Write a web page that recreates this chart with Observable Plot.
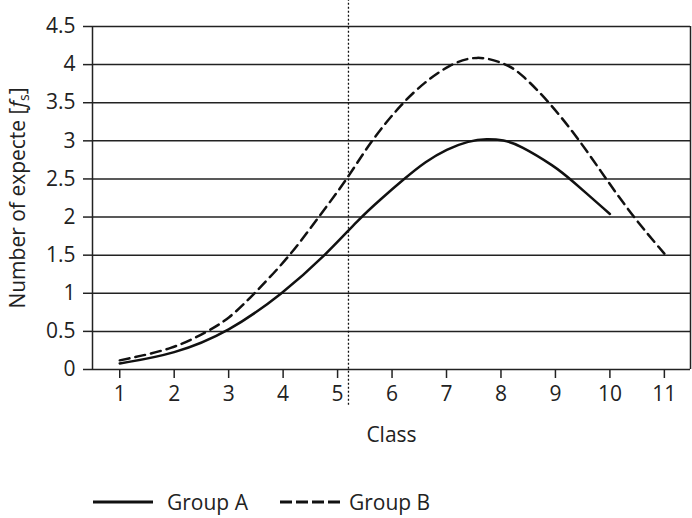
<!DOCTYPE html>
<html>
<head>
<meta charset="utf-8">
<script src="https://cdn.jsdelivr.net/npm/d3@7"></script>
<script src="https://cdn.jsdelivr.net/npm/@observablehq/plot@0.6"></script>
<style>
  body { margin: 0; background: #fff; font-family: "Open Sans", sans-serif; }
  #legend { display: flex; align-items: center; height: 32px; padding-top: 26px; padding-left: 93px; font-size: 21px; color: #222; }
  #legend .item { display: flex; align-items: center; }
</style>
</head>
<body>
<div id="chart"></div>
<div id="legend"></div>
<script>
const classesA = [1, 2, 3, 4, 4.78, 5.4, 5.77, 6.22, 6.62, 7, 7.41, 7.74, 8.05, 8.33, 9, 9.27, 10];
const valuesA  = [0.08, 0.2, 0.49, 1.0, 1.5, 1.98, 2.22, 2.5, 2.73, 2.89, 3.0, 3.03, 3.01, 2.95, 2.66, 2.5, 2.04];
const classesB = [1, 2, 2.61, 3, 3.48, 4.14, 4.65, 5.18, 5.61, 6.19, 6.6, 7.05, 7.56, 8.1, 8.36, 8.9, 9.45, 9.93, 10.43, 11];
const valuesB  = [0.12, 0.27, 0.5, 0.66, 1.0, 1.5, 2.0, 2.5, 3.0, 3.5, 3.77, 4.0, 4.13, 4.01, 3.89, 3.5, 3.0, 2.5, 2.0, 1.52];
const xTicks = [1, 2, 3, 4, 5, 6, 7, 8, 9, 10, 11];
const yTicks = [0, 0.5, 1, 1.5, 2, 2.5, 3, 3.5, 4, 4.5];
const cutClass = [5.2];
const cutSpan = [-0.47, 4.84];
const seriesNames = ["Group A", "Group B"];

const dataA = classesA.map((c, i) => ({x: c, y: valuesA[i]}));
const dataB = classesB.map((c, i) => ({x: c, y: valuesB[i]}));

const ink = "#222";
const chart = Plot.plot({
  width: 692,
  height: 460,
  marginLeft: 92,
  marginRight: 2,
  marginTop: 26,
  marginBottom: 91,
  style: {fontFamily: "Open Sans, sans-serif", fontSize: "21px", color: ink, background: "#fff"},
  x: {domain: [0.5, 11.48]},
  y: {domain: [0, 4.5]},
  marks: [
    Plot.ruleY(yTicks.slice(1), {stroke: ink, strokeWidth: 1.5, strokeOpacity: 1}),
    Plot.ruleX(cutClass, {y1: cutSpan[0], y2: cutSpan[1], stroke: "#111", strokeWidth: 1.3, strokeDasharray: "2,2", clip: false}),
    Plot.line(dataA, {x: "x", y: "y", curve: "basis", stroke: "#111", strokeWidth: 2.5}),
    Plot.line(dataB, {x: "x", y: "y", curve: "basis", stroke: "#111", strokeWidth: 2.5, strokeDasharray: "10,6"}),
    Plot.axisY({ticks: yTicks, tickFormat: d => String(d), tickSize: 9, tickPadding: 8, label: null, stroke: ink, strokeWidth: 1.5}),
    Plot.axisX({ticks: xTicks, tickSize: 9, tickPadding: 8, label: "Class", labelAnchor: "center", labelArrow: "none", labelOffset: 72, stroke: ink, strokeWidth: 1.5}),
    Plot.ruleX([0.5, 11.48], {stroke: ink, strokeWidth: 1.5}),
    Plot.ruleY([0], {stroke: ink, strokeWidth: 1.5})
  ]
});
document.getElementById("chart").appendChild(chart);

// rotated y label with italic f and subscript s
const svg = d3.select(chart);
const t = svg.append("text")
  .attr("transform", "translate(25,198) rotate(-90)")
  .attr("text-anchor", "middle")
  .attr("fill", ink)
  .style("font-size", "21px");
t.append("tspan").text("Number of expecte [");
t.append("tspan").attr("font-style", "italic").text("f");
t.append("tspan").attr("font-size", "14px").attr("dy", "4").text("s");
t.append("tspan").attr("dy", "-4").text("]");

// legend
const legend = d3.select("#legend");
const gaps = [14, 9];
const after = [32, 0];
seriesNames.forEach((name, i) => {
  const item = legend.append("div").attr("class", "item").style("margin-right", after[i] + "px");
  const s = item.append("svg").attr("width", 60).attr("height", 10).style("margin-right", gaps[i] + "px");
  s.append("line").attr("x1", 0).attr("x2", 60).attr("y1", 5).attr("y2", 5)
    .attr("stroke", "#111").attr("stroke-width", 3)
    .attr("stroke-dasharray", i === 1 ? "12,4" : null);
  item.append("span").text(name);
});
</script>
</body>
</html>
